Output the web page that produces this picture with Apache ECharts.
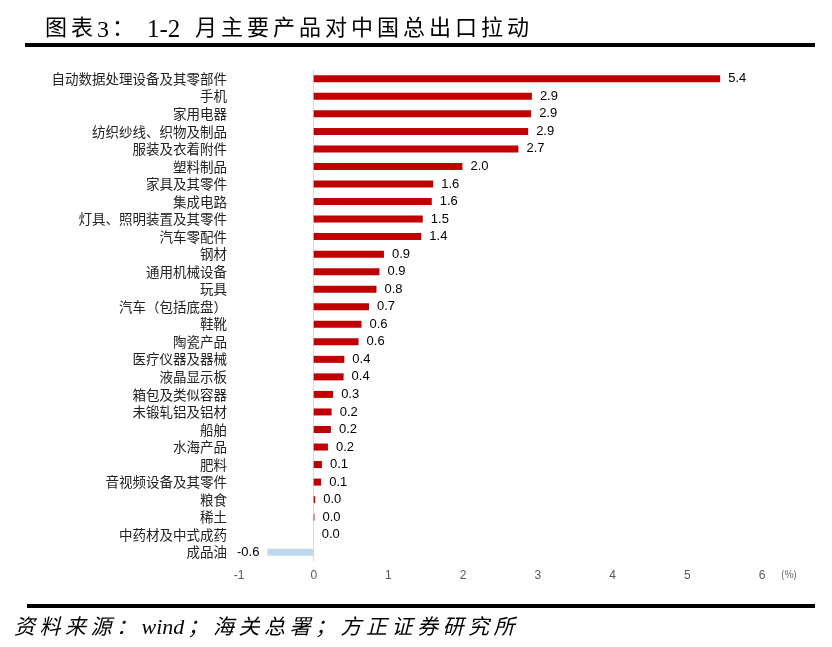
<!DOCTYPE html>
<html><head><meta charset="utf-8">
<script src="https://cdn.jsdelivr.net/npm/echarts@6/dist/echarts.min.js"></script>
<style>html,body{margin:0;padding:0;background:#fff}#c{width:832px;height:647px}</style>
</head><body><div id="c"></div>
<script>
const categories = ["自动数据处理设备及其零部件","手机","家用电器","纺织纱线、织物及制品","服装及衣着附件","塑料制品","家具及其零件","集成电路","灯具、照明装置及其零件","汽车零配件","钢材","通用机械设备","玩具","汽车（包括底盘）","鞋靴","陶瓷产品","医疗仪器及器械","液晶显示板","箱包及类似容器","未锻轧铝及铝材","船舶","水海产品","肥料","音视频设备及其零件","粮食","稀土","中药材及中式成药","成品油"];
const values = [5.44,2.92,2.91,2.87,2.74,1.99,1.60,1.58,1.46,1.44,0.94,0.88,0.84,0.74,0.64,0.60,0.41,0.40,0.26,0.24,0.23,0.19,0.11,0.10,0.02,0.01,0.00,-0.62];
const xTicks = [-1,0,1,2,3,4,5,6];

const cjk = '"Noto Sans CJK SC", sans-serif';
// spaced text helper: places chunks one after another with a fixed advance per CJK char
function spaced(chunks, x0, top, size, advance, extra) {
  const out = [];
  let x = x0;
  chunks.forEach(ch => {
    if (ch.gap) { x += ch.gap; return; }
    if (ch.latin) {
      out.push({type:'text', left:x, top:top + (ch.dy||0), style:Object.assign({text:ch.latin, fontSize:ch.size||size, fontFamily:ch.font||cjk, fill:'#000'}, extra)});
      x += ch.w; return;
    }
    for (const c of ch.cjk) {
      out.push({type:'text', left:x, top:top, style:Object.assign({text:c, fontSize:size, fontFamily:cjk, fill:'#000'}, extra)});
      x += advance;
    }
  });
  return out;
}

const titleEls = spaced([
  {cjk:'图表'}, {latin:'3', w:15, font:'"Liberation Serif", serif', size:24, dy:3}, {cjk:'：'},
  {gap:9}, {latin:'1-2', w:48, font:'"Liberation Serif", serif', size:25, dy:2},
  {cjk:'月主要产品对中国总出口拉动'}
], 45, 16, 22, 26, {});
const footEls = spaced([
  {cjk:'资料来源：'}, {latin:'wind', w:46, font:'"Liberation Serif", serif', size:22, dy:1}, {cjk:'；海关总署；方正证券研究所'}
], 14, 616, 21, 25.5, {fontStyle:'italic'});

const chart = echarts.init(document.getElementById('c'));
chart.setOption({
  animation:false,
  grid:{left:239,right:70,top:70,bottom:86,containLabel:false,outerBoundsMode:'none'},
  xAxis:{type:'value',min:xTicks[0],max:xTicks[xTicks.length-1],interval:1,
    axisLine:{show:false},axisTick:{show:false},splitLine:{show:false},
    axisLabel:{color:'#595959',fontSize:12,fontFamily:'Liberation Sans, Arial',margin:9}},
  yAxis:{type:'category',data:categories,inverse:true,
    axisLine:{show:true,onZero:true,lineStyle:{color:'#d9d9d9',width:1}},
    axisTick:{show:false},
    axisLabel:{color:'#222',fontSize:13.5,fontFamily:cjk,margin:12,interval:0}},
  series:[{type:'bar',data:values.map(v=>({value:v,itemStyle:{color:v<0?'#bdd7ee':'#c00000'},
      label:{position:v<0?'left':'right'}})),
    barWidth:7,
    label:{show:true,position:'right',distance:8,color:'#000',fontSize:13,fontFamily:'Liberation Sans, Arial',
      formatter:p=>p.value.toFixed(1)}}],
  graphic:[
    ...titleEls,
    {type:'rect',shape:{x:25,y:43,width:790,height:4},style:{fill:'#000'}},
    {type:'rect',shape:{x:27,y:604,width:788,height:4},style:{fill:'#000'}},
    ...footEls,
    {type:'text',left:781,top:569,style:{text:'(%)',fontSize:10,fontFamily:cjk,fill:'#595959'}}
  ]
});
</script></body></html>
